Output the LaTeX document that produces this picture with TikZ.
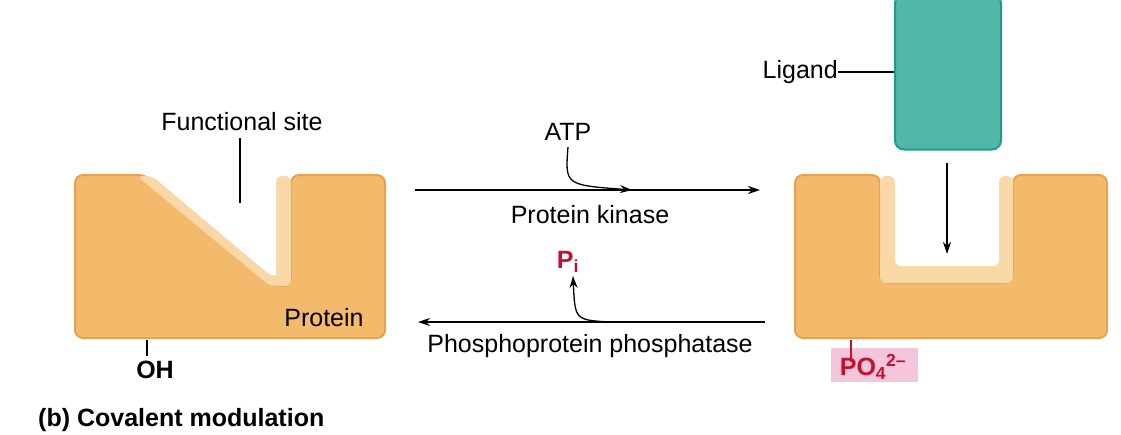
\documentclass[tikz,border=0pt]{standalone}
\usepackage{fontspec}
\setmainfont{Liberation Sans}
\usetikzlibrary{arrows.meta}
\definecolor{prot}{HTML}{F4BA6C}
\definecolor{protd}{HTML}{E8A24E}
\definecolor{protl}{HTML}{F9D7A6}
\definecolor{lig}{HTML}{52B7A6}
\definecolor{ligd}{HTML}{1E9C87}
\definecolor{phred}{HTML}{C8102E}
\definecolor{phpink}{HTML}{F4C6DC}
\begin{document}
\begin{tikzpicture}[x=1pt,y=-1pt,
  txt/.style={font=\fontsize{25}{30}\selectfont,inner sep=0pt},
  btxt/.style={font=\fontsize{25}{30}\selectfont\bfseries,inner sep=0pt},
  body/.style={fill=prot,draw=protd,line width=2pt,rounded corners=8pt},
  hl/.style={fill=protl,draw=none,rounded corners=6pt},
  arr/.style={-{Stealth[length=12pt,width=8pt]},line width=1.3pt}]
\useasboundingbox (0,0) rectangle (1121,434);
% left protein
\path[body] (75,175) -- (146,175) -- (272,286) -- (291,286) -- (291,175) -- (385,175) -- (385,338) -- (75,338) -- cycle;
\path[hl] (137,176) -- (152,176) -- (271,276) -- (276,276) -- (276,176) -- (291,176) -- (291,286) -- (270,286) -- cycle;
\fill[white] (152,173) -- (271,275) -- (276,275) -- (276,173) -- cycle;
% right protein
\path[body] (795,175) -- (880,175) -- (880,283) -- (1013,283) -- (1013,175) -- (1107,175) -- (1107,338) -- (795,338) -- cycle;
\path[hl] (880,176) -- (895,176) -- (895,266) -- (999,266) -- (999,176) -- (1013,176) -- (1013,283) -- (880,283) -- cycle;
\fill[white,rounded corners=6pt] (895,170) -- (895,266) -- (999,266) -- (999,170) -- cycle;
% ligand
\node[fill=lig,draw=ligd,line width=2pt,rounded corners=9pt,minimum width=106pt,minimum height=155pt,inner sep=0pt] (lig) at (948,72) {};
\node[txt,anchor=east] (ligl) at (838,72) {Ligand};
\draw[line width=1.3pt] (ligl.east) -- (lig.west);
\coordinate (la) at (947,163); \coordinate (lb) at (947,254);
\draw[arr] (la) -- (lb);
% functional site
\node[txt] (fs) at (242,122) {Functional site};
\coordinate (fsb) at (240,203);
\draw[line width=1.3pt] (240,138) -- (fsb);
\node[txt] at (324,318) {Protein};
% arrows
\coordinate (t1) at (415,190); \coordinate (t2) at (760,190);
\draw[arr] (t1) -- (t2);
\node[txt] (atp) at (568,132) {ATP};
\coordinate (atpe) at (632,190);
\draw[arr] (568,147) .. controls (565,185) .. (atpe);
\node[txt] at (590,215) {Protein kinase};
\coordinate (b1) at (765,322); \coordinate (b2) at (418,322);
\draw[arr] (b1) -- (b2);
\node[btxt,text=phred] (pi) at (568,262) {P\textsubscript{i}};
\coordinate (pis) at (610,322);
\draw[arr] (pis) .. controls (575,320) .. (573,276);
\node[txt] at (590,346) {Phosphoprotein phosphatase};
% OH
\draw[line width=1.5pt] (147,340) -- (147,356);
\node[btxt] at (155,370) {OH};
% PO4
\fill[phpink] (831,348) rectangle (918,382);
\draw[phred,line width=1.5pt] (851,340) -- (851,362);
\node[btxt,text=phred] at (873,367) {PO\textsubscript{4}\textsuperscript{2\textendash}};
% caption
\node[btxt,anchor=west] at (38,420) {(b) Covalent modulation};
\end{tikzpicture}
\end{document}
